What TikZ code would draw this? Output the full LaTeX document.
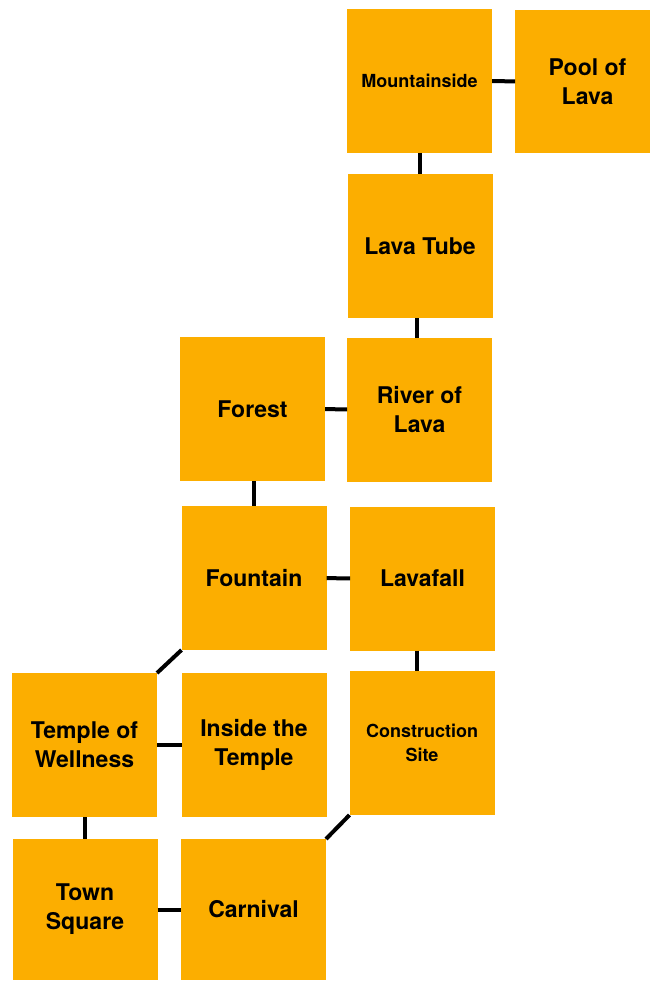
\documentclass[tikz,border=0pt]{standalone}
\usepackage{fontspec}
\setmainfont{TeX Gyre Heros}
\definecolor{roomorange}{RGB}{252,174,0}
\tikzset{
  room/.style = {fill=roomorange, inner sep=0pt, outer sep=0pt,
                 minimum width=145pt, minimum height=144pt, align=center,
                 font=\fontsize{23}{29}\selectfont\bfseries},
  smallroom/.style = {room, font=\fontsize{18}{24}\selectfont\bfseries},
  link/.style = {line width=4pt, black}
}
\begin{document}
\begin{tikzpicture}[x=1pt, y=-1pt]
  \useasboundingbox (0,0) rectangle (649,981);
  % rooms
  \node[smallroom] (mountain) at (419.5,81) {Mountainside};
  \node[room, minimum height=143pt] (pool) at (587.5,81.5) {Pool of\\Lava};
  \node[room] (lavatube) at (420,246) {Lava Tube};
  \node[room] (river) at (419.5,409.5) {River of\\Lava};
  \node[room] (forest) at (252.5,409) {Forest};
  \node[room] (fountain) at (254,578) {Fountain};
  \node[room] (lavafall) at (422.5,578.5) {Lavafall};
  \node[room] (temple) at (84.5,745) {Temple of\\Wellness};
  \node[room] (inside) at (254,745) {Inside the\\Temple};
  \node[smallroom] (construction) at (422,743) {Construction\\Site};
  \node[room, minimum height=141pt] (townsq) at (85,909.5) {Town\\Square};
  \node[room, minimum height=141pt] (carnival) at (253.5,909.5) {Carnival};
  % paths
  \draw[link] (mountain) -- (pool);
  \draw[link] (mountain.south) -- (mountain.south |- lavatube.north);
  \draw[link] ([xshift=-3pt]lavatube.south) -- ([xshift=-3pt]lavatube.south |- river.north);
  \draw[link] (forest) -- (river);
  \draw[link] ([xshift=1pt]forest.south) -- ([xshift=1pt]forest.south |- fountain.north);
  \draw[link] (fountain) -- (lavafall);
  \draw[link] ([xshift=-5.5pt]lavafall.south) -- ([xshift=-5.5pt]lavafall.south |- construction.north);
  \draw[link] (fountain.south west) -- (temple.north east);
  \draw[link] (temple) -- (inside);
  \draw[link] (temple.south) -- (temple.south |- townsq.north);
  \draw[link] (townsq) -- (carnival);
  \draw[link] (construction.south west) -- (carnival.north east);
\end{tikzpicture}
\end{document}
